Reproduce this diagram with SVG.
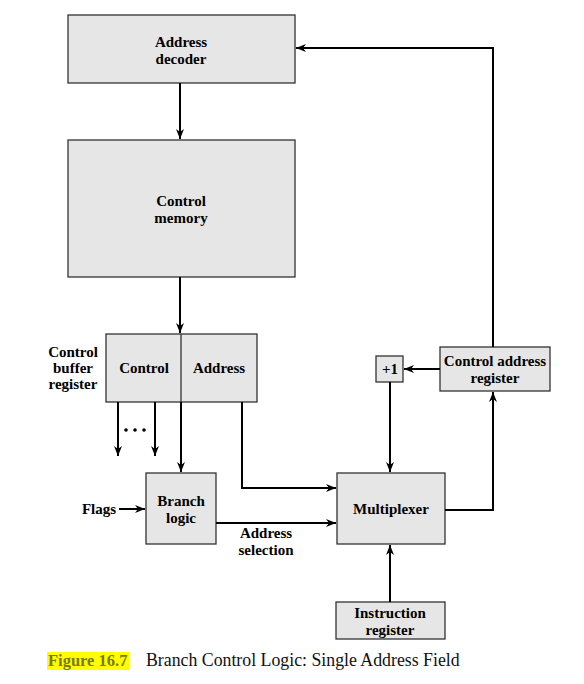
<svg xmlns="http://www.w3.org/2000/svg" width="584" height="684" viewBox="0 0 584 684">
<style>
.box{fill:#e6e6e6;stroke:#333;stroke-width:1.3}
.t{font-family:"Liberation Serif",serif;font-weight:bold;font-size:15px;fill:#000;text-anchor:middle}
.w{stroke:#000;stroke-width:2;fill:none}
</style>
<defs>
<marker id="ah" viewBox="0 0 10 10" refX="10" refY="5" markerWidth="10" markerHeight="10" markerUnits="userSpaceOnUse" orient="auto">
<path d="M0,1 L10,5 L0,9 L3,5 Z" fill="#000"/>
</marker>
</defs>
<rect width="584" height="684" fill="#fff"/>
<g id="address-decoder"><rect class="box" x="68" y="15" width="227" height="68"/>
<text class="t" x="181" y="47">Address</text><text class="t" x="181" y="64">decoder</text></g>
<g id="control-memory"><rect class="box" x="68" y="140" width="227" height="137"/>
<text class="t" x="181" y="206">Control</text><text class="t" x="181" y="223">memory</text></g>
<g id="control-buffer-register"><rect class="box" x="106" y="334" width="151" height="68"/>
<line x1="181" y1="334" x2="181" y2="402" stroke="#333" stroke-width="1.3"/>
<text class="t" x="144" y="373">Control</text><text class="t" x="219" y="373">Address</text>
<text class="t" x="73" y="357">Control</text><text class="t" x="73" y="373">buffer</text><text class="t" x="73" y="389">register</text></g>
<g id="branch-logic"><rect class="box" x="146" y="473" width="70" height="71"/>
<text class="t" x="181" y="506">Branch</text><text class="t" x="181" y="523">logic</text></g>
<g id="multiplexer"><rect class="box" x="337" y="473" width="108" height="71"/>
<text class="t" x="391" y="514">Multiplexer</text></g>
<g id="plus-one"><rect class="box" x="376" y="356" width="27" height="26"/>
<text class="t" x="390" y="374">+1</text></g>
<g id="control-address-register"><rect class="box" x="440" y="347" width="110" height="44"/>
<text class="t" x="495" y="366">Control address</text><text class="t" x="495" y="383">register</text></g>
<g id="instruction-register"><rect class="box" x="336" y="602" width="109" height="37"/>
<text class="t" x="390" y="618">Instruction</text><text class="t" x="390" y="635">register</text></g>
<g id="labels">
<text class="t" x="99" y="514">Flags</text>
<text class="t" x="266" y="538">Address</text><text class="t" x="266" y="555">selection</text>
<circle cx="126" cy="430" r="1.8"/><circle cx="135" cy="430" r="1.8"/><circle cx="144" cy="430" r="1.8"/>
</g>
<g id="connectors">
<line class="w" x1="180" y1="83" x2="180" y2="139" marker-end="url(#ah)"/>
<line class="w" x1="180" y1="277" x2="180" y2="333" marker-end="url(#ah)"/>
<line class="w" x1="118" y1="402" x2="118" y2="456" marker-end="url(#ah)"/>
<line class="w" x1="155" y1="402" x2="155" y2="456" marker-end="url(#ah)"/>
<line class="w" x1="181" y1="402" x2="181" y2="472" marker-end="url(#ah)"/>
<polyline class="w" points="242,402 242,488 336,488" marker-end="url(#ah)"/>
<line class="w" x1="119" y1="509" x2="145" y2="509" marker-end="url(#ah)"/>
<line class="w" x1="216" y1="523" x2="336" y2="523" marker-end="url(#ah)"/>
<line class="w" x1="440" y1="369" x2="404" y2="369" marker-end="url(#ah)"/>
<line class="w" x1="390" y1="382" x2="390" y2="472" marker-end="url(#ah)"/>
<polyline class="w" points="445,510 493,510 493,392" marker-end="url(#ah)"/>
<polyline class="w" points="493,347 493,48 296,48" marker-end="url(#ah)"/>
<line class="w" x1="390" y1="602" x2="390" y2="545" marker-end="url(#ah)"/>
</g>
<g id="caption">
<rect x="47" y="652" width="83" height="18" fill="#ffff00"/>
<text x="48" y="666" font-family="Liberation Serif,serif" font-weight="bold" font-size="16.5" fill="#7a7a00">Figure 16.7</text>
<text x="146" y="666" font-family="Liberation Serif,serif" font-size="17.8" fill="#111">Branch Control Logic: Single Address Field</text>
</g>
</svg>
